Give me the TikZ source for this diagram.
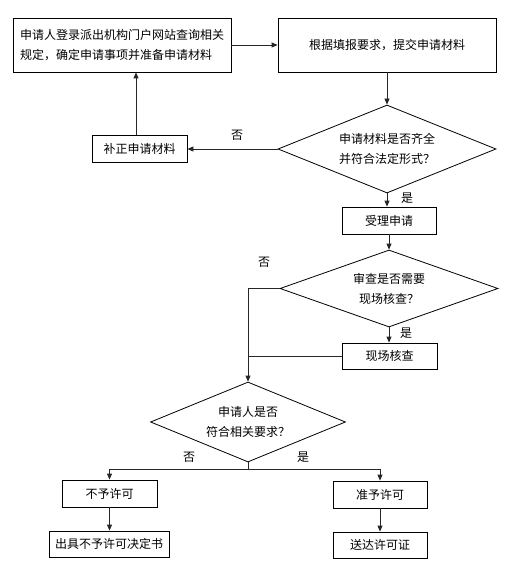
\documentclass[tikz,border=0pt]{standalone}
\usepackage{fontspec}
\setmainfont{Noto Sans CJK SC}
\usetikzlibrary{shapes.geometric,arrows.meta,calc}
\begin{document}
\begin{tikzpicture}[x=1pt,y=-1pt,
  font=\fontsize{12pt}{20pt}\selectfont,
  box/.style={draw=black,line width=0.8pt,inner sep=0pt,align=center},
  dia/.style={draw=black,line width=0.8pt,diamond,shape aspect=2.5,inner sep=0pt,align=center},
  conn/.style={draw=black!85,line width=0.8pt},
  arr/.style={conn,-{Triangle[length=6pt,width=5pt]}},
  lbl/.style={inner sep=0pt}]
\useasboundingbox (0,0) rectangle (528,572);
\node[box,minimum width=218pt,minimum height=54pt,text width=204pt,align=left] (b1) at (122,45) {申请人登录派出机构门户网站查询相关\\规定，确定申请事项并准备申请材料};
\node[box,minimum width=218pt,minimum height=54pt] (b2) at (387,45) {根据填报要求，提交申请材料};
\node[dia,minimum width=218pt,minimum height=88pt] (d1) at (387,149) {申请材料是否齐全\\并符合法定形式？};
\node[box,minimum width=95pt,minimum height=27pt] (fix) at (139.5,149) {补正申请材料};
\node[box,minimum width=94pt,minimum height=27pt] (acc) at (389,220.5) {受理申请};
\node[dia,minimum width=218pt,minimum height=77pt] (d2) at (389,288.5) {审查是否需要\\现场核查？};
\node[box,minimum width=95pt,minimum height=26pt] (site) at (389.5,356) {现场核查};
\node[dia,minimum width=195pt,minimum height=80pt] (d3) at (248,422) {申请人是否\\符合相关要求？};
\node[box,minimum width=95pt,minimum height=27pt] (no) at (109.5,493.5) {不予许可};
\node[box,minimum width=94pt,minimum height=27pt] (yes) at (380,494.5) {准予许可};
\node[box,minimum width=120pt,minimum height=26pt] (nodoc) at (109,544) {出具不予许可决定书};
\node[box,minimum width=94pt,minimum height=26pt] (deliver) at (380,545) {送达许可证};

\draw[arr] (b1.east) -- (b2.west);
\draw[arr] (b2.south) -- (d1.north);
\draw[arr] (d1.west) -- (fix.east);
\draw[arr] ([xshift=-3.5pt]fix.north) -- ([xshift=-3.5pt]fix.north |- b1.south);
\draw[arr] (d1.south) -- (d1.south |- acc.north);
\draw[arr] (acc.south) -- (d2.north);
\draw[arr] (d2.west) -| (d3.north);
\draw[arr] (d2.south) -- (d2.south |- site.north);
\draw[conn] (site.west) -- (site.west -| d3.north);
\draw[conn] (d3.south) -- ++(0,7) coordinate (split);
\draw[arr] (split) -| (no.north);
\draw[arr] (split) -| (yes.north);
\draw[arr] (no.south) -- (no.south |- nodoc.north);
\draw[arr] (yes.south) -- (deliver.north);

\node[lbl] (l1) at (237,135) {否};
\node[lbl] (l2) at (407,198) {是};
\node[lbl] (l3) at (264,262) {否};
\node[lbl] (l4) at (406,333) {是};
\node[lbl] (l5) at (189,457) {否};
\node[lbl] (l6) at (303,457) {是};
\end{tikzpicture}
\end{document}
